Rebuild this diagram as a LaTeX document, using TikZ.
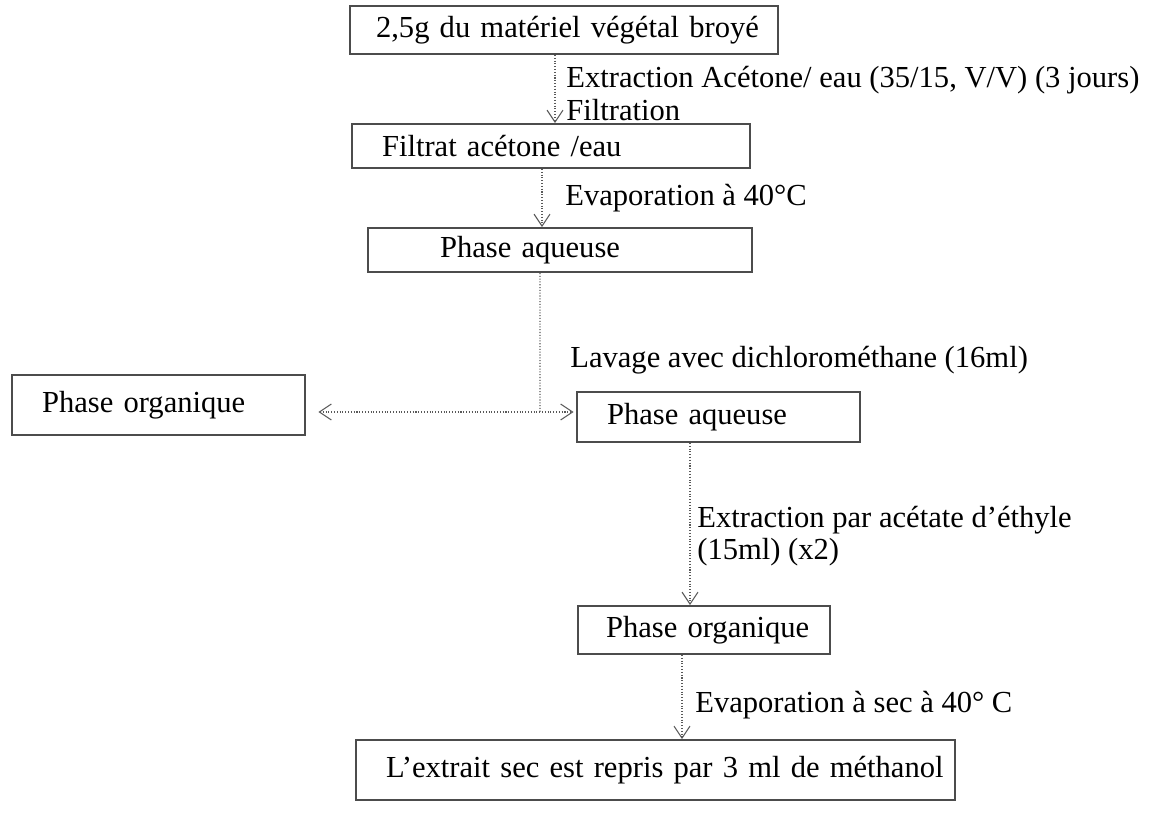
\documentclass[tikz,border=0pt]{standalone}
\usepackage{fontspec}
\setmainfont{Liberation Serif}
\usetikzlibrary{arrows.meta}

\begin{document}
\begin{tikzpicture}[x=0.02cm,y=-0.02cm,>={Straight Barb[length=2.4mm,width=3.2mm]},
  font=\fontsize{17.4}{21}\selectfont,
  boite/.style={draw=black!70,line width=1.1pt,align=left,inner ysep=0pt,inner xsep=0.6cm},
  etiq/.style={anchor=west,inner sep=0pt},
  fleche/.style={->,draw=black!65,line width=0.6pt,densely dotted}]
  \useasboundingbox (0,0) rectangle (1170,824);
  \node[boite,inner xsep=0.52cm,text width=7.52cm,minimum height=0.96cm] (broye) at (564,30) {\mbox{2,5g du matériel végétal broyé}};
  \node[boite,text width=6.76cm,minimum height=0.88cm] (filtrat) at (551,146) {\mbox{Filtrat acétone /eau}};
  \node[boite,inner xsep=1.44cm,text width=4.8cm,minimum height=0.88cm] (aqueuseA) at (560,250) {\mbox{Phase aqueuse}};
  \node[boite,text width=4.66cm,minimum height=1.2cm] (organiqueA) at (158.5,405) {\mbox{Phase organique}};
  \node[boite,text width=4.46cm,minimum height=1cm] (aqueuseB) at (718.5,417) {\mbox{Phase aqueuse}};
  \node[boite,inner xsep=0.56cm,text width=3.92cm,minimum height=0.96cm] (organiqueB) at (704,630) {\mbox{Phase organique}};
  \node[boite,text width=10.78cm,minimum height=1.2cm] (extrait) at (655.5,770) {\mbox{L’extrait sec est repris par 3 ml de méthanol}};
  \node[etiq] (extraction) at (566,80) {Extraction Acétone/ eau (35/15, V/V) (3 jours)};
  \node[etiq] (filtration) at (566,110) {Filtration};
  \node[etiq] (evapA) at (565,198) {Evaporation à 40°C};
  \node[etiq] (lavage) at (570,360) {Lavage avec dichlorométhane (16ml)};
  \node[etiq] (extractionB) at (697,520) {Extraction par acétate d’éthyle};
  \node[etiq] (fois) at (697,552) {(15ml) (x2)};
  \node[etiq] (evapB) at (695,705) {Evaporation à sec à 40° C};
  \coordinate (jonction) at (540,412);
  \draw[fleche] ([xshift=-0.18cm]broye.south) -- ([xshift=-0.18cm]broye.south |- filtrat.north);
  \draw[fleche] ([xshift=-0.18cm]filtrat.south) -- ([xshift=-0.18cm]filtrat.south |- aqueuseA.north);
  \draw[draw=black!65,line width=0.6pt,densely dotted] ([xshift=-0.4cm]aqueuseA.south) -- (jonction);
  \draw[fleche,<->,shorten <=0.25cm,shorten >=0.05cm] (organiqueA.east |- jonction) -- (aqueuseB.west |- jonction);
  \draw[fleche] ([xshift=-0.57cm]aqueuseB.south) -- ([xshift=-0.57cm]aqueuseB.south |- organiqueB.north);
  \draw[fleche] ([xshift=-0.44cm]organiqueB.south) -- ([xshift=-0.44cm]organiqueB.south |- extrait.north);
\end{tikzpicture}
\end{document}
